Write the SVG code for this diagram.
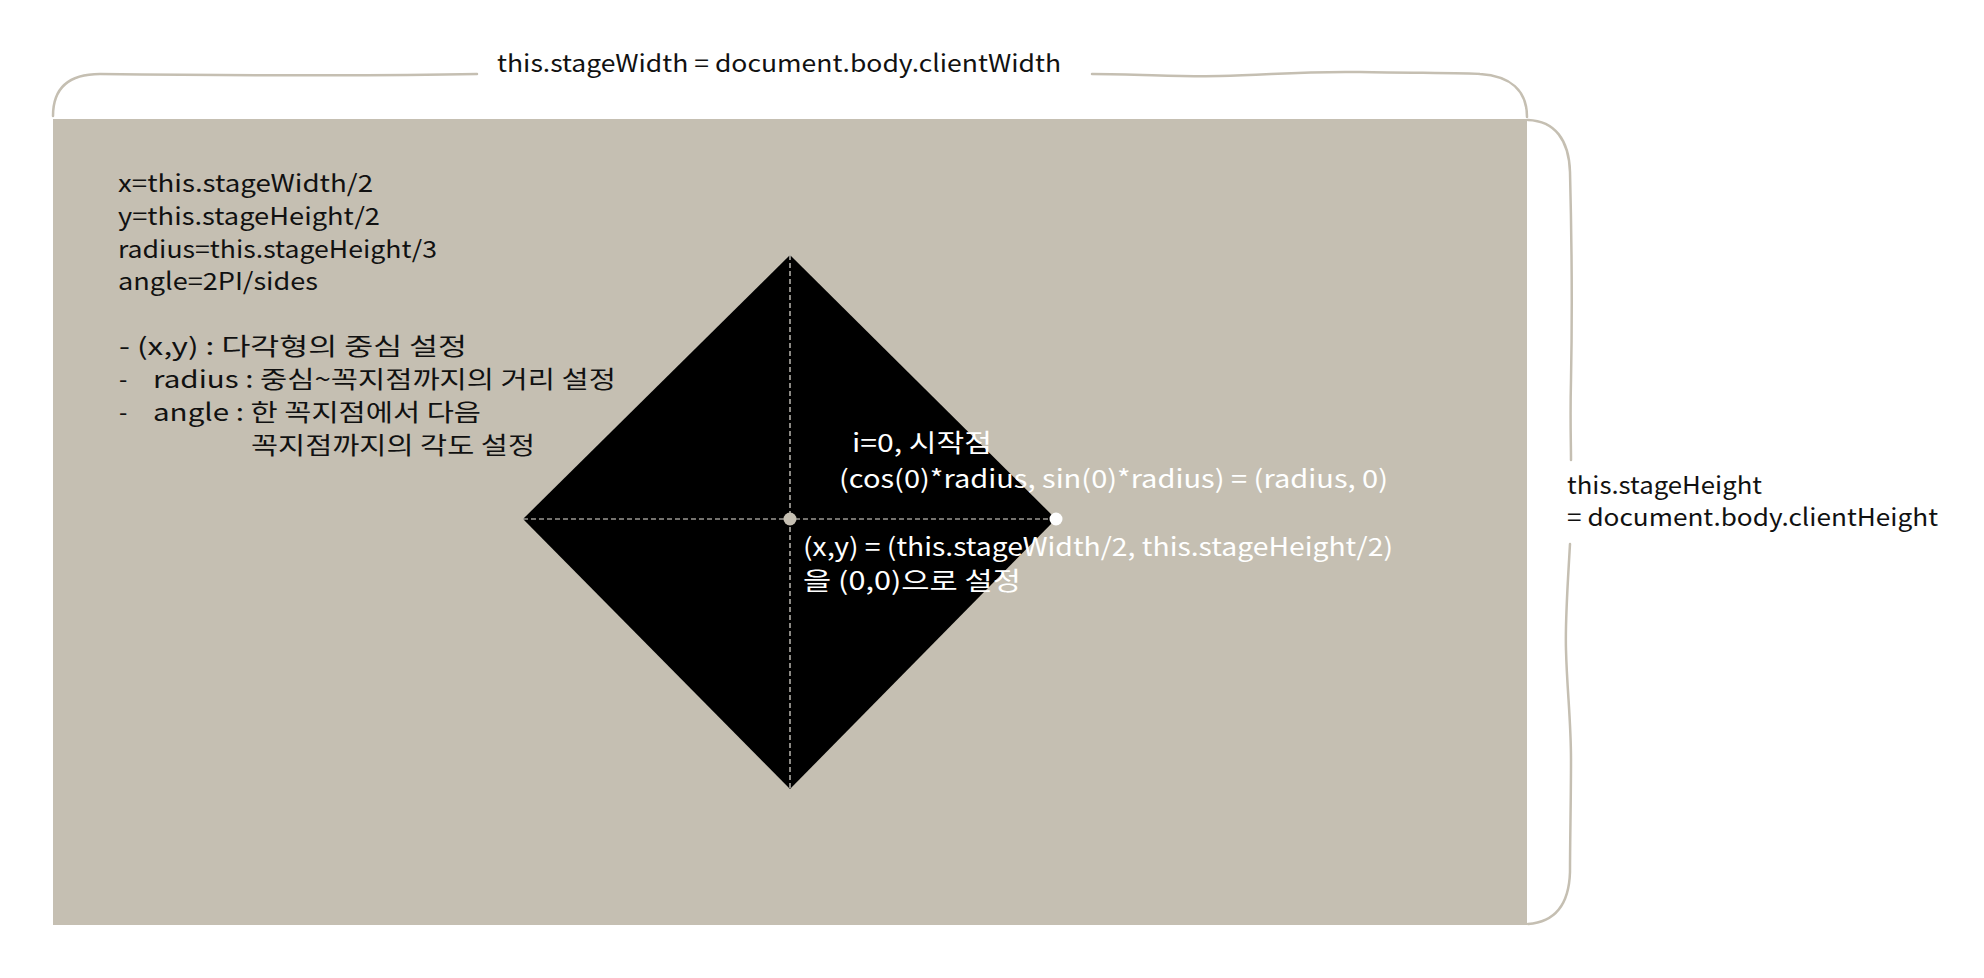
<svg xmlns="http://www.w3.org/2000/svg" width="1984" height="978" viewBox="0 0 1984 978">
<style>
.t{font-family:"Noto Sans CJK KR","Noto Sans",sans-serif;font-size:24px;fill:#111}
.w{font-family:"Noto Sans CJK KR","Noto Sans",sans-serif;font-size:25px;fill:#fff}
.brace{fill:none;stroke:#c5bfb2;stroke-width:2.5;stroke-linecap:round}
.dash{stroke:#e8e4dc;stroke-width:1.2;stroke-dasharray:5 3;fill:none}
</style>
<rect width="1984" height="978" fill="#fff"/>
<g id="stage">
<rect x="53" y="119" width="1474" height="806" fill="#c5bfb2"/>
</g>
<g id="brace-width">
<path class="brace" d="M53,116 C53,88 68,74 100,74 C200,75 380,76 477,74"/>
<path class="brace" d="M1092,74 C1140,74 1180,77 1220,76 C1270,75 1300,71 1360,72 C1420,73 1470,73 1480,74 C1510,76 1527,90 1527,117"/>
<text class="t" x="497" y="72" textLength="564" lengthAdjust="spacingAndGlyphs">this.stageWidth = document.body.clientWidth</text>
</g>
<g id="brace-height">
<path class="brace" d="M1528,120 C1555,121 1569,140 1570,172 C1572,250 1572,330 1571,380 C1570,420 1571,440 1571,460"/>
<path class="brace" d="M1570,544 C1568,580 1565,620 1566,650 C1567,690 1571,720 1571,760 C1571,800 1570,840 1570,872 C1569,905 1555,922 1528,924"/>
<text class="t" x="1567" y="494" textLength="195" lengthAdjust="spacingAndGlyphs">this.stageHeight</text>
<text class="t" x="1567" y="526" textLength="371" lengthAdjust="spacingAndGlyphs">= document.body.clientHeight</text>
</g>
<g id="notes">
<text class="t" x="118" y="192" textLength="255" lengthAdjust="spacingAndGlyphs">x=this.stageWidth/2</text>
<text class="t" x="118" y="225" textLength="262" lengthAdjust="spacingAndGlyphs">y=this.stageHeight/2</text>
<text class="t" x="118" y="258" textLength="319" lengthAdjust="spacingAndGlyphs">radius=this.stageHeight/3</text>
<text class="t" x="118" y="290" textLength="200" lengthAdjust="spacingAndGlyphs">angle=2PI/sides</text>
<text class="t" x="119" y="355" textLength="348" lengthAdjust="spacingAndGlyphs">- (x,y) : 다각형의 중심 설정</text>
<text class="t" x="119" y="388">-</text>
<text class="t" x="153" y="388" textLength="463" lengthAdjust="spacingAndGlyphs">radius : 중심~꼭지점까지의 거리 설정</text>
<text class="t" x="119" y="421">-</text>
<text class="t" x="153" y="421" textLength="328" lengthAdjust="spacingAndGlyphs">angle : 한 꼭지점에서 다음</text>
<text class="t" x="251" y="454" textLength="284" lengthAdjust="spacingAndGlyphs">꼭지점까지의 각도 설정</text>
</g>
<g id="polygon">
<polygon points="790,255 1056,519 790,789 523,519" fill="#000"/>
</g>
<g id="connectors">
<line class="dash" x1="790" y1="255" x2="790" y2="789"/>
<line class="dash" x1="523" y1="519" x2="1056" y2="519"/>
</g>
<g id="center-point">
<circle cx="790" cy="519" r="6.5" fill="#c5bfb2"/>
<text class="w" x="803" y="556" textLength="590" lengthAdjust="spacingAndGlyphs">(x,y) = (this.stageWidth/2, this.stageHeight/2)</text>
<text class="w" x="803" y="590" textLength="218" lengthAdjust="spacingAndGlyphs">을 (0,0)으로 설정</text>
</g>
<g id="start-point">
<circle cx="1056" cy="519" r="6.5" fill="#fff"/>
<text class="w" x="852" y="452" textLength="140" lengthAdjust="spacingAndGlyphs">i=0, 시작점</text>
<text class="w" x="839" y="488" textLength="549" lengthAdjust="spacingAndGlyphs">(cos(0)*radius, sin(0)*radius) = (radius, 0)</text>
</g>
</svg>
